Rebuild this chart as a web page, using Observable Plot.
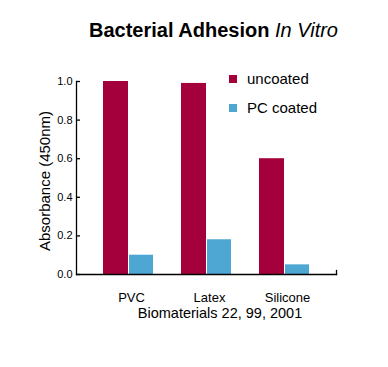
<!DOCTYPE html>
<html><head><meta charset="utf-8">
<script src="https://cdn.jsdelivr.net/npm/d3@7"></script>
<script src="https://cdn.jsdelivr.net/npm/@observablehq/plot@0.6"></script>
<style>
body{margin:0;background:#fff;}
#wrap{position:relative;width:388px;height:367px;font-family:"Liberation Sans",Arial,sans-serif;color:#000;overflow:hidden;}
#wrap svg{position:absolute;left:0;top:0;}
.abs{position:absolute;line-height:1;white-space:nowrap;}
.title{left:89px;top:20px;font-size:20px;}
.title b{font-weight:bold;}
.title i{font-style:italic;}
.cap{left:220px;top:306px;font-size:14.5px;transform:translateX(-50%);}
.ylab{left:44px;top:181px;font-size:15px;transform:translate(-50%,-50%) rotate(-90deg);}
.leg{font-size:15px;left:247px;}
.sw{position:absolute;width:8px;height:8px;left:229px;}
</style></head><body><div id="wrap"></div>
<script>
const materials = ["PVC", "Latex", "Silicone"];
const series = ["uncoated", "PC coated"];
const uncoated = [1.0, 0.99, 0.6];
const pcCoated = [0.1, 0.18, 0.05];
const yTicks = [0, 0.2, 0.4, 0.6, 0.8, 1.0];
const colors = ["#a3003c", "#4ea6d2"];
const titleBold = "Bacterial Adhesion";
const titleItalic = "In Vitro";
const yLabel = "Absorbance (450nm)";
const caption = "Biomaterials 22, 99, 2001";

const dataU = materials.map((m, i) => ({material: m, value: uncoated[i]}));
const dataP = materials.map((m, i) => ({material: m, value: pcCoated[i]}));

const chart = Plot.plot({
  width: 388,
  height: 367,
  marginTop: 81,
  marginBottom: 93,
  marginLeft: 76,
  marginRight: 52,
  style: {fontFamily: "'Liberation Sans', Arial, sans-serif", background: "transparent", color: "#000"},
  x: {domain: materials, paddingInner: 0.359, paddingOuter: 0.346, axis: null},
  y: {domain: [0, 1], axis: null},
  marks: [
    Plot.barY(dataU, {x: "material", y: "value", fill: colors[0], insetRight: 25}),
    Plot.barY(dataP, {x: "material", y: "value", fill: colors[1], insetLeft: 26}),
    Plot.frame({anchor: "left", strokeWidth: 1.3}),
    Plot.frame({anchor: "bottom", strokeWidth: 1.3}),
    Plot.frame({anchor: "right", insetTop: 189, strokeWidth: 1.3}),
    Plot.tickY(yTicks, {y: d => d, insetRight: 256, strokeWidth: 1.3}),
    Plot.axisY(yTicks, {tickSize: 0, tickPadding: 4, fontSize: 11, tickFormat: d3.format(".1f"), label: null}),
    Plot.axisX({tickSize: 0, tickPadding: 18, fontSize: 13, label: null, dx: 3})
  ]
});

const wrap = document.getElementById("wrap");
wrap.appendChild(chart);

function addDiv(cls, html, style) {
  const d = document.createElement("div");
  d.className = "abs " + cls;
  d.innerHTML = html;
  if (style) Object.assign(d.style, style);
  wrap.appendChild(d);
  return d;
}
addDiv("title", `<b>${titleBold}</b> <i>${titleItalic}</i>`);
addDiv("cap", caption);
addDiv("ylab", yLabel);
const legTops = [71, 100];
const swTops = [75, 104];
series.forEach((s, i) => {
  addDiv("leg", s, {top: legTops[i] + "px"});
  const sw = document.createElement("div");
  sw.className = "sw";
  sw.style.top = swTops[i] + "px";
  sw.style.background = colors[i];
  wrap.appendChild(sw);
});
</script>
</body></html>
